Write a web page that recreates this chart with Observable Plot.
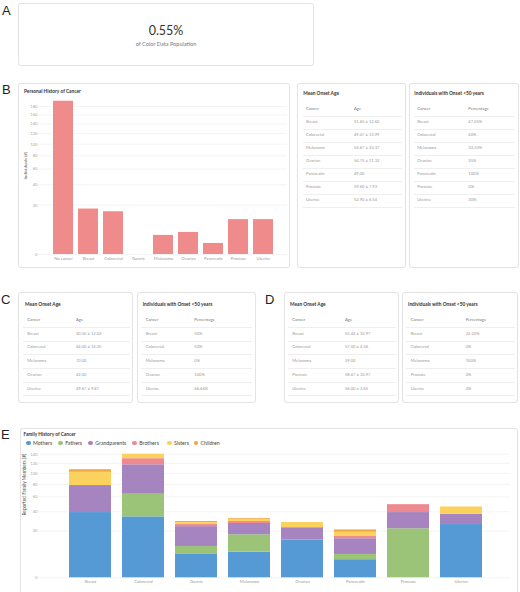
<!DOCTYPE html>
<html>
<head>
<meta charset="utf-8">
<script src="https://cdn.jsdelivr.net/npm/d3@7"></script>
<script src="https://cdn.jsdelivr.net/npm/@observablehq/plot@0.6"></script>
<style>
  html, body { margin: 0; padding: 0; background: #fff; }
  body { width: 520px; height: 592px; position: relative; overflow: hidden; font-family: Lato, "Open Sans", sans-serif; }
  .card { position: absolute; box-sizing: border-box; border: 1px solid #e4e4e4; border-radius: 3px; background: #fff; box-shadow: 0 0 1px rgba(0,0,0,0.06); }
  .letter { position: absolute; font-family: "Liberation Sans", Arial, sans-serif; font-size: 13px; line-height: 13px; color: #222; }
  .t { position: absolute; white-space: nowrap; }
  .line { position: absolute; height: 0; border-top: 1px solid #efefef; }
</style>
</head>
<body>
<script>
// ---------- DATA ----------
const populationShare = "0.55%";
const populationLabel = "of Color Data Population";

const personalCancers = ["No cancer", "Breast", "Colorectal", "Gastric", "Melanoma", "Ovarian", "Pancreatic", "Prostate", "Uterine"];
const personalCounts = [193, 17, 15, 0, 3, 4, 1, 10, 10];
const personalTicks = [0, 20, 40, 60, 80, 100, 120, 140, 160, 180];

const onsetCancersB = ["Breast", "Colorectal", "Melanoma", "Ovarian", "Pancreatic", "Prostate", "Uterine"];
const onsetAgesB = ["51.65 ± 12.60", "49.47 ± 13.99", "54.67 ± 23.37", "54.75 ± 11.32", "49.00", "59.60 ± 7.93", "52.90 ± 6.54"];
const under50B = ["47.05%", "40%", "33.33%", "25%", "100%", "0%", "30%"];

const onsetCancersC = ["Breast", "Colorectal", "Melanoma", "Ovarian", "Uterine"];
const onsetAgesC = ["50.50 ± 12.02", "44.00 ± 14.25", "70.00", "42.00", "49.67 ± 9.87"];
const under50C = ["50%", "50%", "0%", "100%", "66.66%"];

const onsetCancersD = ["Breast", "Colorectal", "Melanoma", "Prostate", "Uterine"];
const onsetAgesD = ["55.44 ± 10.97", "57.00 ± 4.36", "29.00", "58.67 ± 10.97", "56.00 ± 2.65"];
const under50D = ["22.22%", "0%", "100%", "0%", "0%"];

const familyCancers = ["Breast", "Colorectal", "Gastric", "Melanoma", "Ovarian", "Pancreatic", "Prostate", "Uterine"];
const relatives = ["Mothers", "Fathers", "Grandparents", "Brothers", "Sisters", "Children"];
const relativeColors = ["#5599d5", "#9cc479", "#a684bf", "#ee8a8f", "#fbd25e", "#eea745"];
const mothers      = [39, 34, 5, 6, 13, 3, 0, 26];
const fathers      = [0, 30, 4, 11, 0, 2, 22, 0];
const grandparents = [39, 53, 15, 10, 10, 9, 17, 11];
const brothers     = [0, 13, 2, 2, 0, 2, 10, 0];
const sisters      = [24, 10, 2, 2, 5, 3, 0, 9];
const children     = [5, 0, 1, 1, 0, 2, 0, 0];
const familyTicks = [0, 20, 40, 60, 80, 100, 120, 140];

// ---------- HELPERS ----------
const body = document.body;
function card(l, t, w, h) {
  const d = document.createElement("div");
  d.className = "card";
  d.style.left = l + "px"; d.style.top = t + "px"; d.style.width = w + "px"; d.style.height = h + "px";
  body.appendChild(d);
}
function txt(s, x, yc, size, color, weight, center) {
  const d = document.createElement("div");
  d.className = "t";
  d.textContent = s;
  d.style.left = x + "px";
  d.style.top = (yc - 10) + "px";
  d.style.height = "20px";
  d.style.lineHeight = "20px";
  d.style.fontSize = size + "px";
  d.style.color = color;
  d.style.fontWeight = weight || 400;
  if (center) d.style.transform = "translateX(-50%)";
  body.appendChild(d);
  return d;
}
function hline(x1, x2, y) {
  const d = document.createElement("div");
  d.className = "line";
  d.style.left = x1 + "px"; d.style.width = (x2 - x1) + "px"; d.style.top = y + "px";
  body.appendChild(d);
}
function letter(s, x, capTop) {
  const d = document.createElement("div");
  d.className = "letter";
  d.textContent = s;
  d.style.left = x + "px"; d.style.top = (capTop - 1.7) + "px";
  body.appendChild(d);
}
function table(box, title, h1, h2, c1, c2, o) {
  card(box.l, box.t, box.w, box.h);
  txt(title, o.tx, o.ty, 4.8, "#333", 700);
  txt(h1, o.c1, o.y0, 4.2, "#777");
  txt(h2, o.c2, o.y0, 4.2, "#777");
  hline(o.lx1, o.lx2, o.y0 + o.rh / 2);
  c1.forEach((v, i) => {
    const y = o.y0 + o.rh * (i + 1);
    txt(v, o.c1, y, 4.1, "#999");
    txt(c2[i], o.c2, y, 4.1, "#999");
    hline(o.lx1, o.lx2, y + o.rh / 2);
  });
}

// ---------- PANEL A ----------
letter("A", 2, 6);
card(18, 3, 296, 63);
txt(populationShare, 166, 30.5, 12.5, "#333", 400, true);
txt(populationLabel, 166, 44, 5.6, "#777", 400, true);

// ---------- PANEL B ----------
letter("B", 2, 85);
card(18, 83, 272, 185);
txt("Personal History of Cancer", 24, 90.5, 4.8, "#333", 700);

const bData = personalCancers.map((c, i) => ({cancer: c, count: personalCounts[i]}));
const plotB = Plot.plot({
  width: 292, height: 185,
  marginLeft: 50.5, marginRight: 15.5, marginTop: 15, marginBottom: 14,
  x: {domain: personalCancers, paddingInner: 0.2, paddingOuter: 0.1, label: null},
  y: {type: "sqrt", domain: [0, 200], label: null},
  style: {fontFamily: "Lato, sans-serif", fontSize: "4.2px", color: "#999", background: "transparent", overflow: "visible"},
  marks: [
    Plot.ruleY(personalTicks, {stroke: "#ececec", strokeWidth: 0.6, insetLeft: -12.5, insetRight: -10.5}),
    Plot.barY(bData, {x: "cancer", y: "count", fill: "#f08b8c"}),
    Plot.axisY({ticks: personalTicks, tickSize: 0, tickPadding: 13.5, label: null, fill: "#aaa", tickFormat: d => d}),
    Plot.axisX({tickSize: 0, tickPadding: 3, label: null, fill: "#999"}),
    Plot.text(["Individuals (#)"], {frameAnchor: "left", rotate: -90, dx: -25.5, dy: 3, fill: "#555", fontSize: 4.6})
  ]
});
plotB.style.position = "absolute"; plotB.style.left = "0px"; plotB.style.top = "83px";
body.appendChild(plotB);

table({l: 297, t: 83, w: 109, h: 185}, "Mean Onset Age", "Cancer", "Age", onsetCancersB, onsetAgesB,
  {tx: 303.3, ty: 93.3, c1: 306, c2: 354, y0: 109.3, rh: 13, lx1: 303, lx2: 402});
table({l: 409, t: 83, w: 110, h: 185}, "Individuals with Onset <50 years", "Cancer", "Percentage", onsetCancersB, under50B,
  {tx: 414.3, ty: 93.3, c1: 417.3, c2: 468.3, y0: 109.3, rh: 13, lx1: 414, lx2: 515});

// ---------- PANEL C ----------
letter("C", 1, 295);
table({l: 18, t: 292, w: 115, h: 111}, "Mean Onset Age", "Cancer", "Age", onsetCancersC, onsetAgesC,
  {tx: 25, ty: 304, c1: 27.3, c2: 76, y0: 320, rh: 13.7, lx1: 22.7, lx2: 130});
table({l: 137, t: 292, w: 119, h: 111}, "Individuals with Onset <50 years", "Cancer", "Percentage", onsetCancersC, under50C,
  {tx: 142.7, ty: 304, c1: 145.7, c2: 194.3, y0: 320, rh: 13.7, lx1: 141, lx2: 252});

// ---------- PANEL D ----------
letter("D", 265, 295);
table({l: 284, t: 292, w: 115, h: 111}, "Mean Onset Age", "Cancer", "Age", onsetCancersD, onsetAgesD,
  {tx: 290, ty: 304.3, c1: 292.3, c2: 345, y0: 320, rh: 13.7, lx1: 288, lx2: 396});
table({l: 402, t: 292, w: 116, h: 111}, "Individuals with Onset <50 years", "Cancer", "Percentage", onsetCancersD, under50D,
  {tx: 408, ty: 304.3, c1: 410.7, c2: 465.7, y0: 320, rh: 13.7, lx1: 406, lx2: 515});

// ---------- PANEL E ----------
letter("E", 1, 430);
card(20, 428, 498, 170);
txt("Family History of Cancer", 23.5, 434.3, 4.8, "#333", 700);
const legendCircleX = [28.3, 60.7, 90.7, 134.7, 169.3, 196];
relatives.forEach((r, i) => {
  const c = document.createElement("div");
  c.style.cssText = `position:absolute;left:${legendCircleX[i] - 2.4}px;top:${443 - 2.4}px;width:4.8px;height:4.8px;border-radius:50%;background:${relativeColors[i]}`;
  body.appendChild(c);
  txt(r, legendCircleX[i] + 4.6, 443.2, 5.2, "#444");
});

const series = [mothers, fathers, grandparents, brothers, sisters, children];
const eData = [];
relatives.forEach((r, j) => familyCancers.forEach((c, i) => eData.push({cancer: c, relative: r, n: series[j][i]})));

const plotE = Plot.plot({
  width: 520, height: 138,
  marginLeft: 61.3, marginRight: 31.3, marginTop: 3.7, marginBottom: 10.7,
  x: {domain: familyCancers, paddingInner: 0.21, paddingOuter: 0.105, label: null},
  y: {type: "sqrt", domain: [0, 140], label: null},
  color: {domain: relatives, range: relativeColors},
  style: {fontFamily: "Lato, sans-serif", fontSize: "4.2px", color: "#999", background: "transparent", overflow: "visible"},
  marks: [
    Plot.ruleY(familyTicks, {stroke: "#ececec", strokeWidth: 0.6, insetLeft: -23.3, insetRight: -21.3}),
    Plot.barY(eData, Plot.stackY({x: "cancer", y: "n", fill: "relative", z: "relative", order: relatives})),
    Plot.axisY({ticks: familyTicks, tickSize: 0, tickPadding: 24.3, label: null, fill: "#aaa", tickFormat: d => d}),
    Plot.axisX({tickSize: 0, tickPadding: 2.5, label: null, fill: "#999"}),
    Plot.text(["Reported Family Members (#)"], {frameAnchor: "left", rotate: -90, dx: -37.3, dy: -0.5, fill: "#555", fontSize: 4.8})
  ]
});
plotE.style.position = "absolute"; plotE.style.left = "0px"; plotE.style.top = "450px";
body.appendChild(plotE);
</script>
</body>
</html>
